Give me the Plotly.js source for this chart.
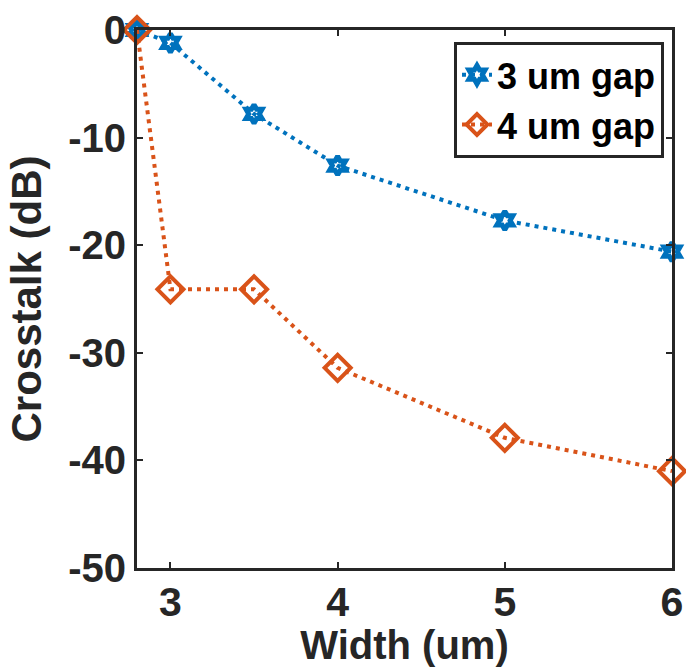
<!DOCTYPE html>
<html>
<head>
<meta charset="utf-8">
<script src="https://cdn.plot.ly/plotly-3.0.1.min.js"></script>
<style>html,body{margin:0;padding:0;background:#fff;}#chart{width:686px;height:667px;}</style>
</head>
<body>
<div id="chart"></div>
<script>
const widths = [2.8, 3, 3.5, 4, 5, 6];
const gap3 = [0, -1.2, -7.8, -12.6, -17.7, -20.6];
const gap4 = [0, -24.1, -24.1, -31.4, -37.9, -41.0];
const seriesNames = ["3 um gap", "4 um gap"];
const xTicks = [3, 4, 5, 6];
const yTicks = [0, -10, -20, -30, -40, -50];

const FONT = "Liberation Sans, Arial, Helvetica, sans-serif";
const INK = "#262626";

const traces = [
  {
    x: widths, y: gap3, name: seriesNames[0], type: "scatter", mode: "lines+markers",
    cliponaxis: false,
    line: {color: "#0072BD", width: 4, dash: "4px,5px"},
    marker: {symbol: "hexagram-open", size: 14, color: "#0072BD", line: {width: 5, color: "#0072BD"}}
  },
  {
    x: widths, y: gap4, name: seriesNames[1], type: "scatter", mode: "lines+markers",
    cliponaxis: false,
    line: {color: "#D95319", width: 4, dash: "4px,5px"},
    marker: {symbol: "diamond-open", size: 20, color: "#D95319", line: {width: 4, color: "#D95319"}}
  }
];

const layout = {
  width: 686, height: 667,
  margin: {l: 137, r: 14, t: 30, b: 99},
  paper_bgcolor: "#fff", plot_bgcolor: "#fff",
  font: {family: FONT, color: "#000", weight: "bold"},
  showlegend: true,
  legend: {
    x: 0.985, y: 0.978, xanchor: "right", yanchor: "top",
    bgcolor: "#fff", bordercolor: INK, borderwidth: 3,
    font: {family: FONT, size: 36, color: "#000", weight: "bold"},
    tracegroupgap: 0, itemwidth: 30
  },
  xaxis: {
    range: [2.8, 6], tickvals: xTicks, ticktext: xTicks.map(String),
    showgrid: false, zeroline: false,
    showline: true, linecolor: INK, linewidth: 3, mirror: "ticks",
    ticks: "inside", ticklen: 6, tickwidth: 2, tickcolor: INK,
    ticklabelstandoff: -4,
    tickfont: {family: FONT, size: 41, color: INK, weight: "bold"},
    title: {text: "Width (um)", font: {family: FONT, size: 40, color: INK, weight: "bold"}, standoff: 12}
  },
  yaxis: {
    range: [-50, 0], tickvals: yTicks, ticktext: yTicks.map(String),
    showgrid: false, zeroline: false,
    showline: true, linecolor: INK, linewidth: 3, mirror: "ticks",
    ticks: "inside", ticklen: 6, tickwidth: 2, tickcolor: INK,
    tickfont: {family: FONT, size: 40, color: INK, weight: "bold"},
    title: {text: "Crosstalk (dB)", font: {family: FONT, size: 42, color: INK, weight: "bold"}, standoff: 14}
  }
};

Plotly.newPlot("chart", traces, layout, {displayModeBar: false, staticPlot: true});
</script>
</body>
</html>
